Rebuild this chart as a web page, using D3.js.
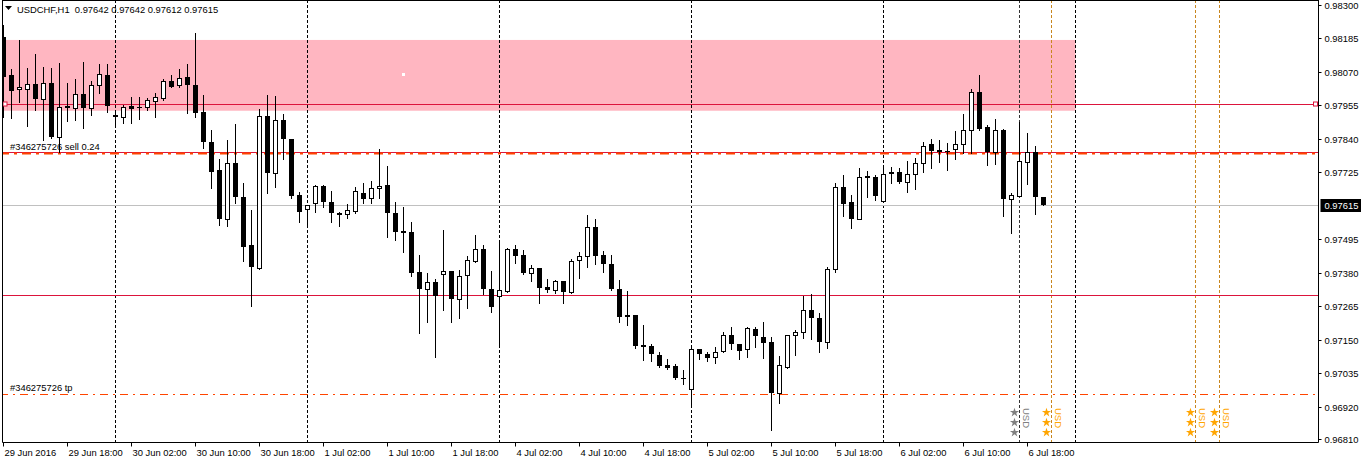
<!DOCTYPE html>
<html><head><meta charset="utf-8">
<script src="https://cdn.jsdelivr.net/npm/d3@7"></script>
<style>
body{margin:0;background:#fff;}
svg{display:block;}
text{font-family:"Liberation Sans",Arial,sans-serif;font-size:9.4px;fill:#000;}
</style>
</head><body>
<svg id="c" width="1362" height="464"></svg>
<script>
// ---- DATA (USDCHF H1, one entry per hourly bar, starting 29 Jun 2016 10:00) ----
const opens = [0.98190,0.98060,0.98010,0.98011,0.98029,0.97977,0.98032,0.97847,0.97953,0.97946,
0.97994,0.97946,0.98025,0.98060,0.97922,0.97915,0.97953,0.97950,0.97950,0.97970,
0.97981,0.98039,0.98025,0.98053,0.98025,0.97933,0.97830,0.97733,0.97565,0.97757,
0.97641,0.97476,0.97397,0.97919,0.97723,0.97905,0.97840,0.97648,0.97600,0.97620,
0.97679,0.97624,0.97586,0.97582,0.97593,0.97654,0.97637,0.97672,0.97682,0.97586,
0.97524,0.97521,0.97383,0.97325,0.97349,0.97376,0.97387,0.97291,0.97373,0.97421,
0.97462,0.97325,0.97301,0.97318,0.97462,0.97442,0.97380,0.97397,0.97332,0.97321,
0.97352,0.97315,0.97424,0.97438,0.97538,0.97442,0.97411,0.97325,0.97236,0.97236,
0.97133,0.97129,0.97098,0.97064,0.97061,0.97021,0.96982,0.97119,0.97102,0.97091,
0.97112,0.97167,0.97136,0.97119,0.97188,0.97160,0.97143,0.96968,0.97057,0.97167,
0.97177,0.97253,0.97225,0.97143,0.97394,0.97675,0.97624,0.97565,0.97713,0.97709,
0.97627,0.97723,0.97727,0.97692,0.97720,0.97757,0.97823,0.97802,0.97800,0.97806,
0.97823,0.97871,0.98001,0.97881,0.97795,0.97871,0.97634,0.97644,0.97761,0.97795,
0.97642];
const highs = [0.98231,0.98080,0.98180,0.98084,0.98132,0.98087,0.98084,0.98101,0.98032,0.98046,
0.98104,0.98039,0.98097,0.98097,0.97939,0.97957,0.97984,0.97984,0.97981,0.97998,
0.98046,0.98060,0.98080,0.98097,0.98204,0.97991,0.97871,0.97771,0.97836,0.97891,
0.97689,0.97596,0.97943,0.97991,0.97987,0.97926,0.97841,0.97658,0.97614,0.97682,
0.97682,0.97661,0.97589,0.97617,0.97675,0.97689,0.97696,0.97806,0.97747,0.97624,
0.97606,0.97555,0.97442,0.97380,0.97359,0.97527,0.97388,0.97390,0.97438,0.97510,
0.97476,0.97387,0.97490,0.97466,0.97476,0.97459,0.97407,0.97398,0.97359,0.97356,
0.97353,0.97428,0.97452,0.97579,0.97565,0.97455,0.97442,0.97356,0.97318,0.97237,
0.97201,0.97136,0.97109,0.97085,0.97067,0.97047,0.97133,0.97120,0.97109,0.97126,
0.97177,0.97194,0.97137,0.97194,0.97194,0.97212,0.97160,0.97095,0.97168,0.97184,
0.97301,0.97308,0.97243,0.97400,0.97689,0.97716,0.97648,0.97740,0.97730,0.97716,
0.97744,0.97744,0.97740,0.97764,0.97775,0.97830,0.97840,0.97836,0.97826,0.97867,
0.97926,0.98011,0.98060,0.97888,0.97909,0.97874,0.97654,0.97898,0.97860,0.97816,
0.97642];
const lows = [0.97915,0.97912,0.97967,0.97884,0.97939,0.97836,0.97843,0.97795,0.97902,0.97905,
0.97878,0.97922,0.97998,0.97933,0.97891,0.97895,0.97895,0.97909,0.97939,0.97915,
0.97974,0.98017,0.98018,0.97929,0.97915,0.97809,0.97672,0.97545,0.97541,0.97620,
0.97421,0.97267,0.97395,0.97654,0.97675,0.97771,0.97637,0.97555,0.97538,0.97589,
0.97606,0.97555,0.97541,0.97569,0.97586,0.97620,0.97620,0.97637,0.97503,0.97493,
0.97452,0.97370,0.97174,0.97212,0.97091,0.97253,0.97212,0.97225,0.97260,0.97418,
0.97308,0.97246,0.97126,0.97315,0.97414,0.97376,0.97352,0.97277,0.97315,0.97311,
0.97277,0.97311,0.97363,0.97400,0.97411,0.97383,0.97321,0.97212,0.97201,0.97122,
0.97081,0.97078,0.97057,0.97050,0.97016,0.96999,0.96920,0.97085,0.97078,0.97071,
0.97109,0.97119,0.97085,0.97091,0.97126,0.97088,0.96841,0.96934,0.97054,0.97098,
0.97157,0.97153,0.97109,0.97122,0.97383,0.97576,0.97534,0.97564,0.97641,0.97630,
0.97624,0.97689,0.97689,0.97658,0.97668,0.97727,0.97740,0.97761,0.97733,0.97771,
0.97792,0.97792,0.97871,0.97751,0.97754,0.97576,0.97517,0.97643,0.97685,0.97582,
0.97612];
const closes = [0.98053,0.98005,0.98017,0.98029,0.97977,0.98032,0.97847,0.97950,0.97946,0.97994,
0.97946,0.98025,0.98063,0.97953,0.97915,0.97950,0.97943,0.97948,0.97974,0.97984,
0.98039,0.98018,0.98049,0.98025,0.97929,0.97830,0.97727,0.97565,0.97757,0.97641,
0.97469,0.97400,0.97919,0.97723,0.97905,0.97840,0.97644,0.97589,0.97613,0.97679,
0.97624,0.97586,0.97579,0.97596,0.97661,0.97634,0.97672,0.97679,0.97586,0.97521,
0.97517,0.97380,0.97325,0.97349,0.97301,0.97387,0.97291,0.97370,0.97424,0.97462,
0.97325,0.97263,0.97321,0.97462,0.97438,0.97380,0.97397,0.97328,0.97321,0.97352,
0.97315,0.97421,0.97438,0.97538,0.97438,0.97411,0.97325,0.97229,0.97229,0.97129,
0.97126,0.97102,0.97061,0.97054,0.97019,0.97019,0.97119,0.97102,0.97088,0.97109,
0.97167,0.97136,0.97112,0.97191,0.97164,0.97140,0.96968,0.97064,0.97167,0.97177,
0.97253,0.97225,0.97143,0.97394,0.97675,0.97617,0.97565,0.97709,0.97706,0.97644,
0.97720,0.97727,0.97692,0.97720,0.97757,0.97816,0.97799,0.97795,0.97799,0.97823,
0.97871,0.98001,0.97874,0.97795,0.97871,0.97634,0.97648,0.97764,0.97795,0.97641,
0.97615];

const timeLabels = ["29 Jun 2016","29 Jun 18:00","30 Jun 02:00","30 Jun 10:00","30 Jun 18:00",
"1 Jul 02:00","1 Jul 10:00","1 Jul 18:00","4 Jul 02:00","4 Jul 10:00","4 Jul 18:00",
"5 Jul 02:00","5 Jul 10:00","5 Jul 18:00","6 Jul 02:00","6 Jul 10:00","6 Jul 18:00"];
const timeLabelBars = [0,8,16,24,32,40,48,56,64,72,80,88,96,104,112,120,128];
const daySeparatorBars = [14,38,62,86,110,134];   // 00:00 of 30 Jun, 1 Jul, 4 Jul, 5 Jul, 6 Jul, 7 Jul
const priceTicks = [0.98300,0.98185,0.98070,0.97955,0.97840,0.97725,0.97495,0.97380,0.97265,0.97150,0.97035,0.96920,0.96810];
const bidPrice = 0.97615;
const title = "USDCHF,H1  0.97642 0.97642 0.97612 0.97615";

const zone = {top:0.98180, bottom:0.97937, endBar:134};
const resistanceLevel = 0.97959;
const sellLevel = 0.97797;
const sellLabel = "#346275726 sell 0.24";
const supportLevel = 0.97304;
const tpLevel = 0.96964;
const tpLabel = "#346275726 tp";

const events = [
  {bar:127, label:"USD", past:true},
  {bar:131, label:"USD", past:false},
  {bar:149, label:"USD", past:false},
  {bar:152, label:"USD", past:false}
];

// ---- LAYOUT ----
const svg = d3.select("#c");
const plotLeft = 2.5, plotTop = 0.5, plotRight = 1318.5, plotBottom = 442.5;
const barsVisible = 164;
const x = d3.scaleLinear().domain([0, barsVisible]).range([3.5, 3.5 + 8*barsVisible]);
const y = d3.scaleLinear().domain([0.96810, 0.98300]).range([439, 5]);
const crimson = "#DC143C", orangeRed = "#FF4500";

const g = svg.append("g");
svg.append("defs").append("clipPath").attr("id","clip")
  .append("rect").attr("x",plotLeft).attr("y",plotTop).attr("width",plotRight-plotLeft).attr("height",plotBottom-plotTop);
const plot = g.append("g").attr("clip-path","url(#clip)");

// pink zone
plot.append("rect").attr("x",0).attr("width",x(zone.endBar))
  .attr("y",y(zone.top)).attr("height",y(zone.bottom)-y(zone.top)).attr("fill","#FFB6C1");
plot.append("rect").attr("x",402).attr("y",73).attr("width",3).attr("height",3).attr("fill","#fff");

// vertical separators
daySeparatorBars.forEach(b=>{
  plot.append("line").attr("x1",Math.round(x(b))+0.5-1).attr("x2",Math.round(x(b))+0.5-1)
    .attr("y1",0).attr("y2",plotBottom).attr("stroke","#000").attr("stroke-dasharray","3,2");
});
events.forEach(e=>{
  const xx = Math.round(x(e.bar))-0.5;
  plot.append("line").attr("x1",xx).attr("x2",xx).attr("y1",0).attr("y2",plotBottom)
    .attr("stroke", e.past ? "#333" : "#C8861E").attr("stroke-dasharray","3,2");
});

// horizontal levels
function hline(p, color, dash, w){
  const yy = Math.round(y(p))+0.5;
  plot.append("line").attr("x1",0).attr("x2",plotRight).attr("y1",yy).attr("y2",yy)
    .attr("stroke",color).attr("stroke-width",w||1).attr("stroke-dasharray",dash||null);
  return yy;
}
hline(bidPrice, "#C0C0C0");
const ry = hline(resistanceLevel, crimson);
hline(supportLevel, crimson);
const sy = hline(sellLevel, crimson);
plot.append("line").attr("x1",0).attr("x2",plotRight).attr("y1",sy+1).attr("y2",sy+1)
  .attr("stroke",orangeRed).attr("stroke-width",2).attr("stroke-dasharray","9,5,3,5");
hline(tpLevel, orangeRed, "8,5,2,5");

// candles
const idx = d3.range(opens.length);
plot.selectAll(".wick").data(idx).join("line")
  .attr("x1",i=>x(i)).attr("x2",i=>x(i))
  .attr("y1",i=>Math.round(y(highs[i]))).attr("y2",i=>Math.round(y(lows[i]))+1)
  .attr("stroke","#000");
plot.selectAll(".body").data(idx).join("rect")
  .attr("x",i=> closes[i]>=opens[i] ? x(i)-2 : x(i)-2.5)
  .attr("width",i=> closes[i]>=opens[i] ? 4 : 5)
  .attr("y",i=>{const t=Math.round(y(Math.max(opens[i],closes[i]))); return closes[i]>=opens[i] ? t+0.5 : t;})
  .attr("height",i=>{const h=Math.round(y(Math.min(opens[i],closes[i])))-Math.round(y(Math.max(opens[i],closes[i])));
      return closes[i]>=opens[i] ? Math.max(h,0) : Math.max(h,1);})
  .attr("fill",i=> closes[i]>=opens[i] ? "#fff" : "#000")
  .attr("stroke",i=> closes[i]>=opens[i] ? "#000" : "none");

// squares on resistance line ends
[[3,ry],[plotRight-5,ry]].forEach(([sx,yy])=>{
  g.append("rect").attr("x",sx).attr("y",yy-2.5).attr("width",4).attr("height",4)
   .attr("fill","#fff").attr("stroke",crimson);
});

// event stars + text
const star = d3.symbol().type(d3.symbolStar).size(26);
events.forEach(e=>{
  const col = e.past ? "#808080" : "#FFA500";
  const xx = Math.round(x(e.bar))-0.5;
  [412.5,422.5,432.5].forEach(sy2=>{
    g.append("path").attr("d",star).attr("transform",`translate(${xx-5},${sy2})`).attr("fill",col);
  });
  g.append("text").attr("transform",`translate(${xx+3},${408}) rotate(90)`)
    .style("fill",col).style("font-size","9.5px").text(e.label);
});

// order labels
g.append("text").attr("x",10).attr("y",sy-3).text(sellLabel);
g.append("text").attr("x",10).attr("y",Math.round(y(tpLevel))-3).text(tpLabel);

// frame
g.append("line").attr("x1",plotLeft).attr("x2",plotLeft).attr("y1",0).attr("y2",plotBottom).attr("stroke","#000");
g.append("line").attr("x1",plotRight).attr("x2",plotRight).attr("y1",0).attr("y2",plotBottom).attr("stroke","#000");
g.append("line").attr("x1",plotLeft).attr("x2",plotRight).attr("y1",plotBottom).attr("y2",plotBottom).attr("stroke","#000");
g.append("line").attr("x1",plotLeft).attr("x2",plotRight).attr("y1",plotTop).attr("y2",plotTop).attr("stroke","#000");

// right price axis
priceTicks.forEach(p=>{
  const yy = Math.round(y(p))+0.5;
  g.append("line").attr("x1",plotRight).attr("x2",plotRight+3).attr("y1",yy).attr("y2",yy).attr("stroke","#000");
  g.append("text").attr("x",plotRight+6).attr("y",yy).attr("dy","0.35em").text(p.toFixed(5));
});
const by = Math.round(y(bidPrice))+0.5;
g.append("rect").attr("x",plotRight+2).attr("y",by-6.5).attr("width",1362-plotRight-3).attr("height",13).attr("fill","#000");
g.append("text").attr("x",plotRight+6).attr("y",by).attr("dy","0.35em").style("fill","#fff").text(bidPrice.toFixed(5));

// bottom time axis
timeLabelBars.forEach((b,k)=>{
  const xx = Math.round(x(b))-0.5;
  g.append("line").attr("x1",xx).attr("x2",xx).attr("y1",plotBottom).attr("y2",plotBottom+4).attr("stroke","#000");
  g.append("text").attr("x",xx+1).attr("y",456).text(timeLabels[k]);
});

// title
g.append("path").attr("d","M5,6 L12,6 L8.5,10 Z").attr("fill","#000");
g.append("text").attr("x",17).attr("y",13).attr("xml:space","preserve").style("white-space","pre").text(title);
</script>
</body></html>
